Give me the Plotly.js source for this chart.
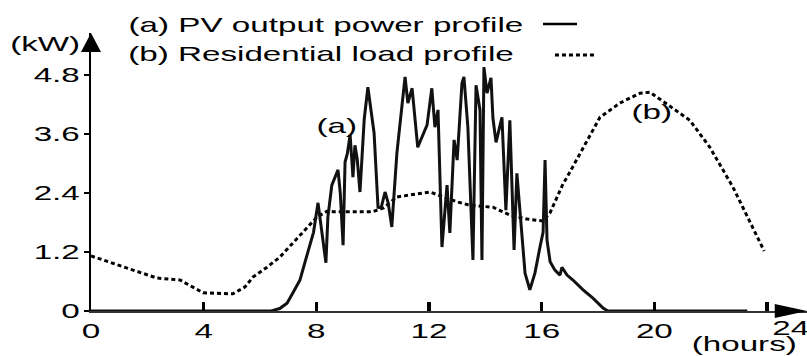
<!DOCTYPE html>
<html><head><meta charset="utf-8">
<script src="https://cdn.plot.ly/plotly-3.0.1.min.js"></script>
<style>body{margin:0;background:#fff} #chart{width:807px;height:356px}</style>
</head><body><div id="chart"></div>
<script>
// (a) PV output power profile
const pvHours = [0, 6.4, 6.7, 6.96, 7.2, 7.42, 7.6, 7.77, 7.9, 8.06, 8.15, 8.24, 8.34, 8.41, 8.55, 8.77, 8.85, 8.95, 9.02, 9.1, 9.2, 9.3, 9.37, 9.45, 9.55, 9.7, 9.83, 10.05, 10.19, 10.3, 10.44, 10.55, 10.68, 10.86, 11.04, 11.15, 11.25, 11.4, 11.6, 11.93, 12.1, 12.21, 12.32, 12.46, 12.64, 12.74, 12.89, 13.0, 13.17, 13.24, 13.38, 13.56, 13.67, 13.81, 13.88, 13.95, 14.06, 14.2, 14.27, 14.38, 14.59, 14.73, 14.87, 15.02, 15.12, 15.23, 15.41, 15.58, 15.76, 15.94, 16.05, 16.12, 16.19, 16.3, 16.47, 16.65, 16.72, 16.9, 17.11, 17.47, 17.82, 18.18, 18.35, 23.3];
const pvKW = [0, 0, 0.05, 0.16, 0.4, 0.63, 1.0, 1.35, 1.6, 2.2, 1.8, 1.4, 0.98, 1.91, 2.56, 2.87, 2.4, 1.34, 3.03, 3.2, 3.58, 2.72, 3.37, 3.1, 2.42, 3.9, 4.55, 3.62, 2.11, 2.1, 2.42, 2.2, 1.71, 3.21, 4.13, 4.76, 4.23, 4.53, 3.33, 3.78, 4.53, 3.74, 4.09, 1.3, 2.56, 1.59, 3.48, 3.07, 4.63, 4.76, 3.74, 1.04, 4.59, 4.09, 1.04, 4.96, 4.43, 4.74, 3.92, 3.43, 3.94, 2.05, 3.88, 1.24, 2.8, 2.05, 0.77, 0.43, 0.77, 1.3, 1.6, 3.07, 1.44, 1.0, 0.83, 0.73, 0.89, 0.73, 0.63, 0.43, 0.26, 0.06, 0, 0];
// (b) Residential load profile
const loadHours = [0, 2.34, 3.16, 3.98, 5.04, 5.47, 5.75, 6.25, 6.71, 7.17, 7.67, 8.02, 8.38, 8.6, 10.0, 10.4, 10.86, 12.03, 13.0, 13.45, 14.27, 14.87, 15.48, 16.05, 16.3, 16.55, 16.77, 16.9, 17.47, 18.07, 18.78, 19.49, 19.84, 21.26, 21.97, 22.79, 23.9];
const loadKW = [1.12, 0.67, 0.63, 0.37, 0.35, 0.49, 0.69, 0.89, 1.10, 1.38, 1.69, 1.91, 2.03, 2.02, 2.02, 2.1, 2.32, 2.42, 2.22, 2.15, 2.11, 1.95, 1.87, 1.83, 2.0, 2.32, 2.6, 2.72, 3.33, 3.94, 4.23, 4.43, 4.45, 3.88, 3.33, 2.52, 1.22];

const xTickVals = [0, 4, 8, 12, 16, 20, 24];
const xTickText = ['0', '4', '8', '12', '16', '20', ''];
const yTickVals = [0, 1.2, 2.4, 3.6, 4.8];
const yTickText = ['0', '1.2', '2.4', '3.6', '4.8'];
const legendA = '(a) PV output power profile';
const legendB = '(b) Residential load profile';

const FONT = {family: 'Liberation Sans, Arial, sans-serif', size: 21, color: '#000'};

const traces = [
  {x: loadHours, y: loadKW, mode: 'lines', line: {color: '#000', width: 3, dash: '4px,3px'}, hoverinfo: 'skip'},
  {x: pvHours, y: pvKW, mode: 'lines', line: {color: '#111', width: 3}, hoverinfo: 'skip'}
];

function ann(text, x, y, ref) {
  return {text: text, x: x, y: y, xref: ref || 'paper', yref: ref || 'paper', showarrow: false,
          xanchor: 'center', yanchor: 'middle', font: FONT, borderpad: 0};
}

const layout = {
  width: 807, height: 356,
  margin: {l: 91, r: 0, t: 33, b: 45},
  paper_bgcolor: '#fff', plot_bgcolor: '#fff',
  showlegend: false,
  font: FONT,
  xaxis: {range: [0, 25.42], tickvals: xTickVals, ticktext: xTickText, ticks: 'inside', ticklen: 9,
          tickwidth: 3.5, tickcolor: '#000', showline: true, linecolor: '#333', linewidth: 1.5,
          showgrid: false, zeroline: false, tickfont: FONT, fixedrange: true},
  yaxis: {range: [0, 5.654], tickvals: yTickVals, ticktext: yTickText, ticks: 'outside', ticklen: 5,
          tickwidth: 1.5, tickcolor: '#000', showline: true, linecolor: '#000', linewidth: 2,
          showgrid: false, zeroline: false, tickfont: FONT, fixedrange: true},
  annotations: [
    ann('(kW)', -0.0642, 0.964),
    ann(legendA, 0.3289, 1.029),
    ann(legendB, 0.3219, 0.928),
    ann('(hours)', 0.9134, -0.117),
    ann('24', 0.9777, -0.061),
    ann('(a)', 8.73, 3.78, 'x'),
    ann('(b)', 19.9, 4.05, 'x')
  ],
  shapes: [
    {type: 'path', xref: 'paper', yref: 'paper', path: 'M 0.955 0.025 L 1 0 L 0.955 -0.025 Z', fillcolor: '#000', line: {width: 0}},
    {type: 'path', xref: 'paper', yref: 'paper', path: 'M -0.014 0.932 L 0 1 L 0.014 0.932 Z', fillcolor: '#000', line: {width: 0}},
    {type: 'line', xref: 'paper', yref: 'paper', x0: 0.6313, x1: 0.6788, y0: 1.0324, y1: 1.0324, line: {color: '#000', width: 2.5}},
    {type: 'line', xref: 'paper', yref: 'paper', x0: 0.648, x1: 0.7039, y0: 0.9209, y1: 0.9209, line: {color: '#000', width: 3, dash: '4px,3px'}}
  ]
};

function stretch(gd) {
  gd.querySelectorAll('text').forEach(function (t) {
    if (!t.textContent.trim()) return;
    var L = t.getComputedTextLength();
    t.setAttribute('textLength', (L * 1.58).toFixed(1));
    t.setAttribute('lengthAdjust', 'spacingAndGlyphs');
  });
}

Plotly.newPlot('chart', traces, layout, {displayModeBar: false, staticPlot: true}).then(stretch);
</script>
</body></html>
